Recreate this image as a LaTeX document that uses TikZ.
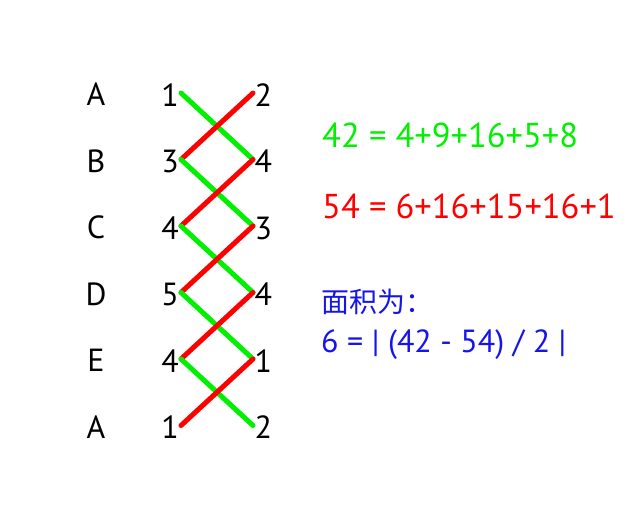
\documentclass[tikz,border=0pt]{standalone}
\usepackage{fontspec}
\setmainfont{PT Sans}
\newfontfamily\cjk{Noto Sans CJK SC}
\usepackage{xcolor}
\usetikzlibrary{positioning}

\definecolor{lgreen}{RGB}{0,240,0}
\definecolor{lred}{RGB}{255,0,0}
\definecolor{lblue}{RGB}{20,20,235}

\tikzset{
	num/.style={inner sep=0, font=\fontsize{32}{32}\selectfont},
	sumtxt/.style={anchor=base west, inner sep=0, font=\fontsize{34.5}{34.5}\selectfont},
	gline/.style={lgreen, line width=5pt, line cap=round},
	rline/.style={lred, line width=5pt, line cap=round}
}

\begin{document}
\begin{tikzpicture}[x=1pt, y=-1pt]
	\useasboundingbox (0,0) rectangle (643,519);

	% line ends, one pair per row
	\foreach \i/\y in {1/93, 2/159.5, 3/226, 4/292.5, 5/359, 6/425.5} {
		\coordinate (l\i) at (181,\y);
		\coordinate (r\i) at (253,\y);
	}

	% point names
	\node[num] (a1) at (96,94.5) {A};
	\node[num] (a2) at (96,161) {B};
	\node[num] (a3) at (96,227.5) {C};
	\node[num] (a4) at (96,294) {D};
	\node[num] (a5) at (96,360.5) {E};
	\node[num] (a6) at (96,427) {A};

	% x and y values
	\node[num, left=2pt of l1, yshift=-2pt] (x1) {1};
	\node[num, left=2pt of l2, yshift=-2pt] (x2) {3};
	\node[num, left=2pt of l3, yshift=-2pt] (x3) {4};
	\node[num, left=2pt of l4, yshift=-2pt] (x4) {5};
	\node[num, left=2pt of l5, yshift=-2pt] (x5) {4};
	\node[num, left=2pt of l6, yshift=-2pt] (x6) {1};
	\node[num, right=1.5pt of r1, yshift=-2pt] (y1) {2};
	\node[num, right=1.5pt of r2, yshift=-2pt] (y2) {4};
	\node[num, right=1.5pt of r3, yshift=-2pt] (y3) {3};
	\node[num, right=1.5pt of r4, yshift=-2pt] (y4) {4};
	\node[num, right=1.5pt of r5, yshift=-2pt] (y5) {1};
	\node[num, right=1.5pt of r6, yshift=-2pt] (y6) {2};

	% cross products
	\foreach \i [evaluate=\i as \j using int(\i+1)] in {1,...,5} {
		\draw[gline] (l\i) -- (r\j);
		\draw[rline] (r\i) -- (l\j);
	}

	\node[sumtxt, lgreen] (gsum) at (322,147) {42 = 4+9+16+5+8};
	\node[sumtxt, lred] (rsum) at (322,218) {54 = 6+16+15+16+1};
	\node[sumtxt, lblue, font=\cjk\fontsize{28}{28}\selectfont] (area) at (321,312) {面积为：};
	\node[sumtxt, lblue, font=\fontsize{32}{32}\selectfont] (res) at (321,352) {6 = | (42 - 54) / 2 |};
\end{tikzpicture}
\end{document}
